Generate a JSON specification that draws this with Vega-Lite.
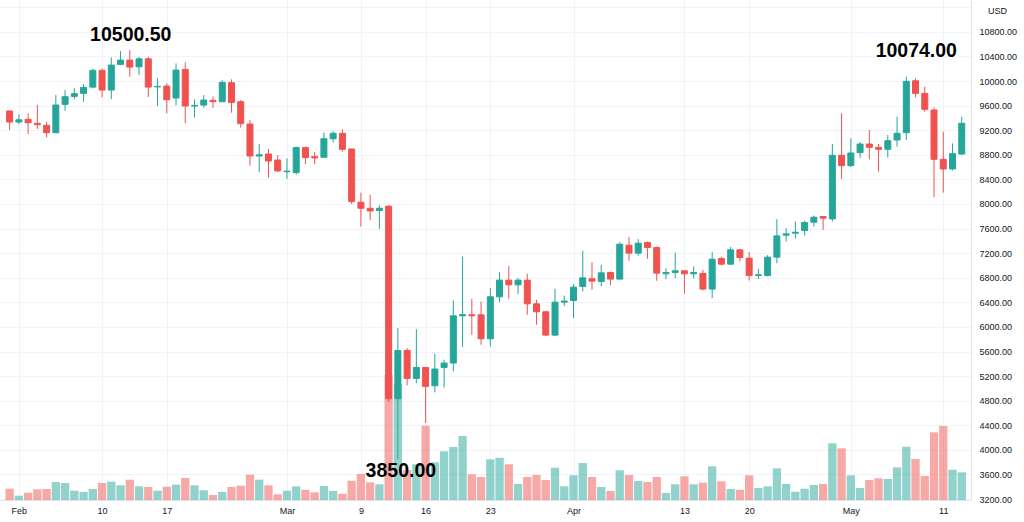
{
  "$schema": "https://vega.github.io/schema/vega-lite/v6.json",
  "description": "BTCUSD daily candlesticks with volume, Feb to May 2020",
  "width": 971,
  "height": 500,
  "autosize": {"type": "none"},
  "padding": {"left": 0, "top": 0, "right": 53, "bottom": 22},
  "background": "#ffffff",
  "datasets": {
    "candles": [
      {"date": "2020-01-31", "open": 9513, "high": 9529, "low": 9204, "close": 9334, "volume": 11300},
      {"date": "2020-02-01", "open": 9334, "high": 9460, "low": 9297, "close": 9370, "volume": 4300},
      {"date": "2020-02-02", "open": 9378, "high": 9475, "low": 9139, "close": 9322, "volume": 7300},
      {"date": "2020-02-03", "open": 9312, "high": 9610, "low": 9220, "close": 9290, "volume": 10700},
      {"date": "2020-02-04", "open": 9280, "high": 9339, "low": 9085, "close": 9160, "volume": 11000},
      {"date": "2020-02-05", "open": 9160, "high": 9772, "low": 9150, "close": 9610, "volume": 18000},
      {"date": "2020-02-06", "open": 9621, "high": 9854, "low": 9517, "close": 9745, "volume": 17000},
      {"date": "2020-02-07", "open": 9751, "high": 9886, "low": 9707, "close": 9794, "volume": 9300},
      {"date": "2020-02-08", "open": 9800, "high": 9951, "low": 9664, "close": 9897, "volume": 8000},
      {"date": "2020-02-09", "open": 9902, "high": 10200, "low": 9880, "close": 10174, "volume": 11000},
      {"date": "2020-02-10", "open": 10174, "high": 10206, "low": 9735, "close": 9854, "volume": 17000},
      {"date": "2020-02-11", "open": 9854, "high": 10385, "low": 9707, "close": 10260, "volume": 18300},
      {"date": "2020-02-12", "open": 10271, "high": 10487, "low": 10260, "close": 10341, "volume": 14700},
      {"date": "2020-02-13", "open": 10341, "high": 10500, "low": 10070, "close": 10227, "volume": 20300},
      {"date": "2020-02-14", "open": 10232, "high": 10395, "low": 10097, "close": 10362, "volume": 13700},
      {"date": "2020-02-15", "open": 10362, "high": 10395, "low": 9740, "close": 9902, "volume": 13000},
      {"date": "2020-02-16", "open": 9905, "high": 10043, "low": 9593, "close": 9913, "volume": 9300},
      {"date": "2020-02-17", "open": 9919, "high": 9962, "low": 9475, "close": 9696, "volume": 13300},
      {"date": "2020-02-18", "open": 9724, "high": 10287, "low": 9605, "close": 10179, "volume": 15300},
      {"date": "2020-02-19", "open": 10190, "high": 10304, "low": 9313, "close": 9594, "volume": 22000},
      {"date": "2020-02-20", "open": 9594, "high": 9702, "low": 9410, "close": 9604, "volume": 14700},
      {"date": "2020-02-21", "open": 9610, "high": 9772, "low": 9566, "close": 9691, "volume": 9700},
      {"date": "2020-02-22", "open": 9686, "high": 9751, "low": 9566, "close": 9665, "volume": 5000},
      {"date": "2020-02-23", "open": 9664, "high": 10016, "low": 9664, "close": 9978, "volume": 8000},
      {"date": "2020-02-24", "open": 9973, "high": 10027, "low": 9486, "close": 9653, "volume": 13000},
      {"date": "2020-02-25", "open": 9664, "high": 9691, "low": 9242, "close": 9307, "volume": 14300},
      {"date": "2020-02-26", "open": 9301, "high": 9366, "low": 8624, "close": 8781, "volume": 25300},
      {"date": "2020-02-27", "open": 8781, "high": 8976, "low": 8521, "close": 8800, "volume": 20300},
      {"date": "2020-02-28", "open": 8813, "high": 8895, "low": 8430, "close": 8700, "volume": 14700},
      {"date": "2020-02-29", "open": 8716, "high": 8798, "low": 8519, "close": 8538, "volume": 5700},
      {"date": "2020-03-01", "open": 8525, "high": 8743, "low": 8407, "close": 8535, "volume": 9300},
      {"date": "2020-03-02", "open": 8510, "high": 8935, "low": 8480, "close": 8917, "volume": 13700},
      {"date": "2020-03-03", "open": 8917, "high": 8935, "low": 8650, "close": 8754, "volume": 10200},
      {"date": "2020-03-04", "open": 8770, "high": 8850, "low": 8650, "close": 8749, "volume": 7700},
      {"date": "2020-03-05", "open": 8760, "high": 9160, "low": 8760, "close": 9062, "volume": 14000},
      {"date": "2020-03-06", "open": 9062, "high": 9187, "low": 9000, "close": 9150, "volume": 9000},
      {"date": "2020-03-07", "open": 9150, "high": 9215, "low": 8850, "close": 8890, "volume": 6300},
      {"date": "2020-03-08", "open": 8895, "high": 8895, "low": 8000, "close": 8039, "volume": 19300},
      {"date": "2020-03-09", "open": 8029, "high": 8186, "low": 7633, "close": 7931, "volume": 26000},
      {"date": "2020-03-10", "open": 7931, "high": 8148, "low": 7741, "close": 7887, "volume": 17700},
      {"date": "2020-03-11", "open": 7893, "high": 7980, "low": 7595, "close": 7931, "volume": 15700},
      {"date": "2020-03-12", "open": 7964, "high": 7980, "low": 4779, "close": 4832, "volume": 125000},
      {"date": "2020-03-13", "open": 4832, "high": 5980, "low": 3850, "close": 5617, "volume": 116000},
      {"date": "2020-03-14", "open": 5617, "high": 5656, "low": 5049, "close": 5162, "volume": 30000},
      {"date": "2020-03-15", "open": 5162, "high": 5963, "low": 5086, "close": 5341, "volume": 35700},
      {"date": "2020-03-16", "open": 5341, "high": 5350, "low": 4437, "close": 5033, "volume": 74300},
      {"date": "2020-03-17", "open": 5044, "high": 5564, "low": 4935, "close": 5315, "volume": 37700},
      {"date": "2020-03-18", "open": 5341, "high": 5466, "low": 5012, "close": 5412, "volume": 48700},
      {"date": "2020-03-19", "open": 5412, "high": 6430, "low": 5276, "close": 6181, "volume": 53000},
      {"date": "2020-03-20", "open": 6181, "high": 7145, "low": 5672, "close": 6200, "volume": 64000},
      {"date": "2020-03-21", "open": 6197, "high": 6457, "low": 5872, "close": 6181, "volume": 25700},
      {"date": "2020-03-22", "open": 6197, "high": 6414, "low": 5710, "close": 5807, "volume": 23000},
      {"date": "2020-03-23", "open": 5807, "high": 6630, "low": 5683, "close": 6490, "volume": 40700},
      {"date": "2020-03-24", "open": 6490, "high": 6891, "low": 6404, "close": 6761, "volume": 42300},
      {"date": "2020-03-25", "open": 6761, "high": 6994, "low": 6457, "close": 6685, "volume": 35700},
      {"date": "2020-03-26", "open": 6685, "high": 6793, "low": 6533, "close": 6761, "volume": 16000},
      {"date": "2020-03-27", "open": 6761, "high": 6864, "low": 6197, "close": 6376, "volume": 23000},
      {"date": "2020-03-28", "open": 6376, "high": 6441, "low": 6035, "close": 6246, "volume": 25000},
      {"date": "2020-03-29", "open": 6246, "high": 6260, "low": 5860, "close": 5867, "volume": 20000},
      {"date": "2020-03-30", "open": 5867, "high": 6620, "low": 5856, "close": 6403, "volume": 32300},
      {"date": "2020-03-31", "open": 6403, "high": 6510, "low": 6343, "close": 6420, "volume": 13700},
      {"date": "2020-04-01", "open": 6430, "high": 6696, "low": 6144, "close": 6647, "volume": 24700},
      {"date": "2020-04-02", "open": 6659, "high": 7237, "low": 6576, "close": 6799, "volume": 37000},
      {"date": "2020-04-03", "open": 6783, "high": 7054, "low": 6604, "close": 6745, "volume": 23000},
      {"date": "2020-04-04", "open": 6740, "high": 7010, "low": 6659, "close": 6880, "volume": 13000},
      {"date": "2020-04-05", "open": 6886, "high": 6900, "low": 6680, "close": 6778, "volume": 9000},
      {"date": "2020-04-06", "open": 6778, "high": 7378, "low": 6775, "close": 7346, "volume": 29700},
      {"date": "2020-04-07", "open": 7330, "high": 7465, "low": 7075, "close": 7200, "volume": 25000},
      {"date": "2020-04-08", "open": 7200, "high": 7427, "low": 7157, "close": 7362, "volume": 19000},
      {"date": "2020-04-09", "open": 7373, "high": 7390, "low": 7108, "close": 7291, "volume": 18000},
      {"date": "2020-04-10", "open": 7291, "high": 7308, "low": 6750, "close": 6875, "volume": 23000},
      {"date": "2020-04-11", "open": 6864, "high": 6956, "low": 6778, "close": 6886, "volume": 7000},
      {"date": "2020-04-12", "open": 6886, "high": 7210, "low": 6794, "close": 6913, "volume": 15700},
      {"date": "2020-04-13", "open": 6913, "high": 6913, "low": 6539, "close": 6864, "volume": 23700},
      {"date": "2020-04-14", "open": 6864, "high": 6983, "low": 6790, "close": 6886, "volume": 15700},
      {"date": "2020-04-15", "open": 6870, "high": 6929, "low": 6594, "close": 6616, "volume": 17300},
      {"date": "2020-04-16", "open": 6616, "high": 7216, "low": 6469, "close": 7102, "volume": 33700},
      {"date": "2020-04-17", "open": 7113, "high": 7146, "low": 6999, "close": 7021, "volume": 18700},
      {"date": "2020-04-18", "open": 7021, "high": 7302, "low": 7010, "close": 7254, "volume": 11000},
      {"date": "2020-04-19", "open": 7254, "high": 7270, "low": 7064, "close": 7129, "volume": 10300},
      {"date": "2020-04-20", "open": 7119, "high": 7216, "low": 6756, "close": 6837, "volume": 24700},
      {"date": "2020-04-21", "open": 6837, "high": 6945, "low": 6778, "close": 6848, "volume": 12000},
      {"date": "2020-04-22", "open": 6837, "high": 7168, "low": 6820, "close": 7135, "volume": 13700},
      {"date": "2020-04-23", "open": 7135, "high": 7753, "low": 7037, "close": 7481, "volume": 31700},
      {"date": "2020-04-24", "open": 7492, "high": 7606, "low": 7389, "close": 7514, "volume": 16000},
      {"date": "2020-04-25", "open": 7525, "high": 7714, "low": 7438, "close": 7541, "volume": 8300},
      {"date": "2020-04-26", "open": 7568, "high": 7730, "low": 7487, "close": 7698, "volume": 11300},
      {"date": "2020-04-27", "open": 7704, "high": 7812, "low": 7633, "close": 7785, "volume": 15000},
      {"date": "2020-04-28", "open": 7796, "high": 7806, "low": 7579, "close": 7769, "volume": 16000},
      {"date": "2020-04-29", "open": 7757, "high": 8976, "low": 7714, "close": 8792, "volume": 56700},
      {"date": "2020-04-30", "open": 8792, "high": 9475, "low": 8407, "close": 8624, "volume": 51700},
      {"date": "2020-05-01", "open": 8624, "high": 9070, "low": 8600, "close": 8830, "volume": 24700},
      {"date": "2020-05-02", "open": 8836, "high": 9010, "low": 8750, "close": 8976, "volume": 12000},
      {"date": "2020-05-03", "open": 8976, "high": 9204, "low": 8727, "close": 8922, "volume": 20000},
      {"date": "2020-05-04", "open": 8922, "high": 8976, "low": 8526, "close": 8890, "volume": 21700},
      {"date": "2020-05-05", "open": 8890, "high": 9122, "low": 8754, "close": 9030, "volume": 21000},
      {"date": "2020-05-06", "open": 9041, "high": 9420, "low": 8932, "close": 9150, "volume": 32700},
      {"date": "2020-05-07", "open": 9160, "high": 10074, "low": 9041, "close": 9995, "volume": 53300},
      {"date": "2020-05-08", "open": 10005, "high": 10043, "low": 9735, "close": 9800, "volume": 41000},
      {"date": "2020-05-09", "open": 9800, "high": 9908, "low": 9501, "close": 9540, "volume": 24000},
      {"date": "2020-05-10", "open": 9529, "high": 9572, "low": 8110, "close": 8727, "volume": 67700},
      {"date": "2020-05-11", "open": 8727, "high": 9177, "low": 8185, "close": 8570, "volume": 74000},
      {"date": "2020-05-12", "open": 8570, "high": 8987, "low": 8547, "close": 8819, "volume": 30300},
      {"date": "2020-05-13", "open": 8813, "high": 9420, "low": 8797, "close": 9313, "volume": 27700}
    ]
  },
  "layer": [
    {
      "data": {"name": "candles"},
      "mark": {"type": "bar", "width": 8.3, "opacity": 0.5, "clip": true},
      "encoding": {
        "x": {
          "field": "date",
          "type": "temporal",
          "scale": {
            "type": "utc",
            "domain": [
              {"year": 2020, "month": "jan", "date": 30, "hours": 12, "utc": true},
              {"year": 2020, "month": "may", "date": 13, "hours": 11, "utc": true}
            ]
          },
          "axis": {
            "title": null,
            "tickCount": 30,
            "values": [
              {"year": 2020, "month": "feb", "date": 1, "utc": true},
              {"year": 2020, "month": "feb", "date": 10, "utc": true},
              {"year": 2020, "month": "feb", "date": 17, "utc": true},
              {"year": 2020, "month": "mar", "date": 1, "utc": true},
              {"year": 2020, "month": "mar", "date": 9, "utc": true},
              {"year": 2020, "month": "mar", "date": 16, "utc": true},
              {"year": 2020, "month": "mar", "date": 23, "utc": true},
              {"year": 2020, "month": "apr", "date": 1, "utc": true},
              {"year": 2020, "month": "apr", "date": 13, "utc": true},
              {"year": 2020, "month": "apr", "date": 20, "utc": true},
              {"year": 2020, "month": "may", "date": 1, "utc": true},
              {"year": 2020, "month": "may", "date": 11, "utc": true}
            ],
            "labelExpr": "utcFormat(datum.value, '%d') == '01' ? utcFormat(datum.value, '%b') : utcFormat(datum.value, '%-d')",
            "ticks": false,
            "labelPadding": 6,
            "labelFlush": false,
            "labelOverlap": false,
            "grid": true,
            "gridColor": "#f0f3fa",
            "domainColor": "#e0e3eb"
          }
        },
        "y": {
          "field": "volume",
          "type": "quantitative",
          "scale": {"domain": [0, 500000]},
          "axis": null
        },
        "color": {
          "condition": {"test": "datum.close >= datum.open", "value": "#26a69a"},
          "value": "#ef5350"
        }
      }
    },
    {
      "layer": [
        {
          "data": {"name": "candles"},
          "mark": {"type": "rule", "strokeWidth": 1, "clip": true},
          "encoding": {
            "x": {"field": "date", "type": "temporal"},
            "y": {
              "field": "low",
              "type": "quantitative",
              "scale": {"domain": [3184, 11319], "nice": false, "zero": false},
              "axis": {
                "orient": "right",
                "title": "USD",
                "titleAngle": 0,
                "titleX": 26,
                "titleY": 10,
                "titleAlign": "center",
                "titleBaseline": "middle",
                "titleFontSize": 9,
                "titleFontWeight": "normal",
                "tickCount": 30,
                "values": [3200, 3600, 4000, 4400, 4800, 5200, 5600, 6000, 6400, 6800, 7200, 7600, 8000, 8400, 8800, 9200, 9600, 10000, 10400, 10800, 11200],
                "labelExpr": "datum.value >= 11200 ? '' : format(datum.value, '.2f')",
                "labelOverlap": false,
                "labelFlush": false,
                "ticks": false,
                "labelPadding": 8,
                "grid": true,
                "gridColor": "#f0f3fa",
                "domainColor": "#e0e3eb"
              }
            },
            "y2": {"field": "high"},
            "color": {
              "condition": {"test": "datum.close >= datum.open", "value": "#26a69a"},
              "value": "#ef5350"
            }
          }
        },
        {
          "data": {"name": "candles"},
          "mark": {"type": "bar", "width": 6, "strokeWidth": 1, "clip": true},
          "encoding": {
            "x": {"field": "date", "type": "temporal"},
            "y": {"field": "open", "type": "quantitative"},
            "y2": {"field": "close"},
            "color": {
              "condition": {"test": "datum.close >= datum.open", "value": "#26a69a"},
              "value": "#ef5350"
            },
            "stroke": {
              "condition": {"test": "datum.close >= datum.open", "value": "#26a69a"},
              "value": "#ef5350"
            }
          }
        },
        {
          "data": {"values": [{"date": "2020-02-13", "price": 10500.5, "label": "10500.50"}]},
          "mark": {"type": "text", "font": "Liberation Sans", "fontSize": 19.5, "fontWeight": "bold", "color": "#000000", "dx": 1, "dy": -15, "baseline": "middle"},
          "encoding": {
            "x": {"field": "date", "type": "temporal"},
            "y": {"field": "price", "type": "quantitative"},
            "text": {"field": "label"}
          }
        },
        {
          "data": {"values": [{"date": "2020-05-07", "price": 10074, "label": "10074.00"}]},
          "mark": {"type": "text", "font": "Liberation Sans", "fontSize": 19.5, "fontWeight": "bold", "color": "#000000", "dx": 10, "dy": -26, "baseline": "middle"},
          "encoding": {
            "x": {"field": "date", "type": "temporal"},
            "y": {"field": "price", "type": "quantitative"},
            "text": {"field": "label"}
          }
        },
        {
          "data": {"values": [{"date": "2020-03-13", "price": 3850, "label": "3850.00"}]},
          "mark": {"type": "text", "font": "Liberation Sans", "fontSize": 19.5, "fontWeight": "bold", "color": "#000000", "dx": 3, "dy": 12, "baseline": "middle"},
          "encoding": {
            "x": {"field": "date", "type": "temporal"},
            "y": {"field": "price", "type": "quantitative"},
            "text": {"field": "label"}
          }
        }
      ]
    }
  ],
  "resolve": {"scale": {"y": "independent"}},
  "config": {
    "view": {"stroke": null},
    "font": "Liberation Sans",
    "axis": {
      "labelFont": "Liberation Sans",
      "labelFontSize": 9,
      "labelColor": "#131722",
      "titleFont": "Liberation Sans",
      "titleColor": "#131722"
    }
  }
}
